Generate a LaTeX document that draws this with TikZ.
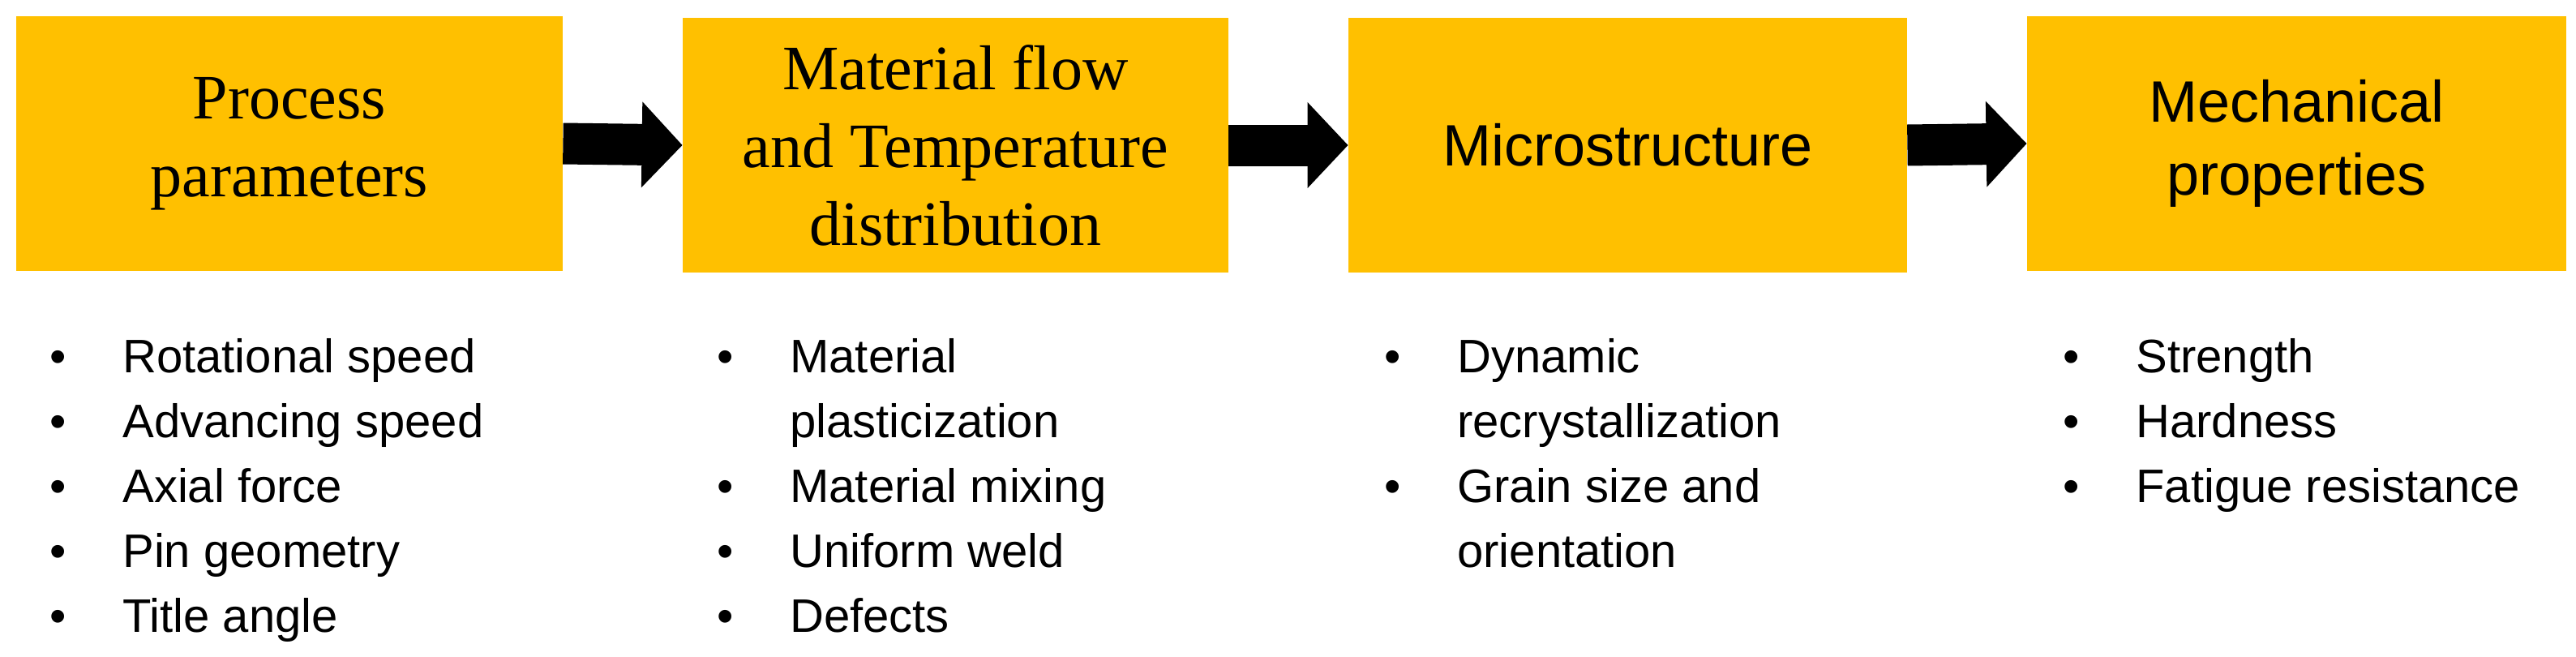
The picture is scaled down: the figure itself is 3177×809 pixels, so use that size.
\documentclass[tikz,border=0pt]{standalone}
\usepackage{fontspec}
\setmainfont{Liberation Sans}
\newfontfamily\serifttl{Liberation Serif}
\usetikzlibrary{arrows.meta}
\definecolor{boxy}{HTML}{FFC000}
\begin{document}
\begin{tikzpicture}[x=0.5pt,y=-0.5pt,
  box/.style={fill=boxy,draw=none,inner sep=0pt,align=center,minimum height=157pt},
  sttl/.style={font=\serifttl\fontsize{39}{48}\selectfont},
  attl/.style={font=\fontsize{36}{45}\selectfont},
  lst/.style={anchor=north west,inner sep=0pt,align=left,font=\fontsize{29}{40}\selectfont},
  conn/.style={line width=25.5pt,-{Triangle[length=25pt,width=51.5pt]}}]
\useasboundingbox (0,0) rectangle (3177,809);
\newcommand{\bul}{\makebox[45pt][l]{\textbullet}}
\newcommand{\ind}{\hspace*{45pt}}
\node[box,sttl,minimum width=337pt] (b1) at (357,177) {Process\\parameters};
\node[box,sttl,minimum width=336.5pt] (b2) at (1178.5,179) {Material flow\\and Temperature\\distribution};
\node[box,attl,minimum width=344.5pt] (b3) at (2007.5,179) {Microstructure};
\node[box,attl,minimum width=332.5pt] (b4) at (2832.5,177) {Mechanical\\properties};
\draw[conn] (b1.east) -- (b2.west);
\draw[conn] (b2.east) -- (b3.west);
\draw[conn] (b3.east) -- (b4.west);
\node[lst] (l1) at (61,417) {\bul Rotational speed\\\bul Advancing speed\\\bul Axial force\\\bul Pin geometry\\\bul Title angle};
\node[lst] (l2) at (884,417) {\bul Material\\\ind plasticization\\\bul Material mixing\\\bul Uniform weld\\\bul Defects};
\node[lst] (l3) at (1707,417) {\bul Dynamic\\\ind recrystallization\\\bul Grain size and\\\ind orientation};
\node[lst] (l4) at (2544,417) {\bul Strength\\\bul Hardness\\\bul Fatigue resistance};
\end{tikzpicture}
\end{document}
